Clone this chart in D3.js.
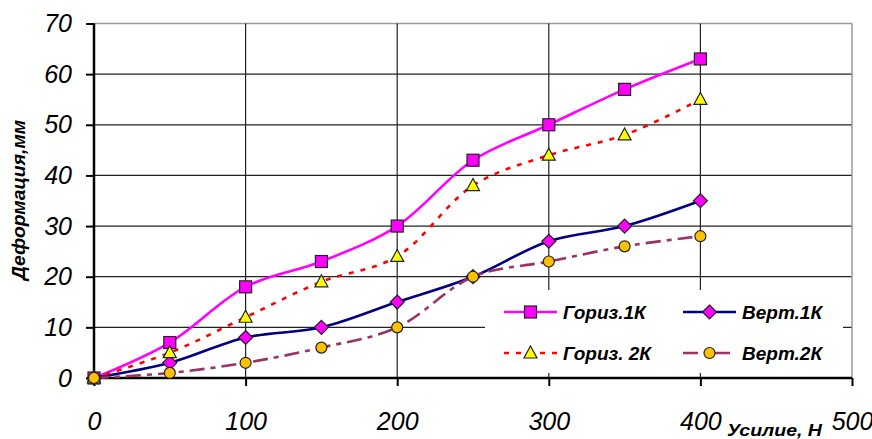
<!DOCTYPE html>
<html><head><meta charset="utf-8">
<script src="https://cdn.jsdelivr.net/npm/d3@7"></script>
<style>
body{margin:0;background:#fff;}
svg{display:block;font-family:"Liberation Sans",Arial,sans-serif;}
</style></head>
<body><svg id="c" width="872" height="439"></svg>
<script>
const xValues = [0, 50, 100, 150, 200, 250, 300, 350, 400];
const goriz1K = [0, 7, 18, 23, 30, 43, 50, 57, 63];
const vert1K  = [0, 3, 8, 10, 15, 20, 27, 30, 35];
const goriz2K = [0, 5, 12, 19, 24, 38, 44, 48, 55];
const vert2K  = [0, 1, 3, 6, 10, 20, 23, 26, 28];
const seriesNames = ["Гориз.1К", "Верт.1К", "Гориз. 2К", "Верт.2К"];
const xTicks = [0, 100, 200, 300, 400, 500];
const yTicks = [0, 10, 20, 30, 40, 50, 60, 70];
const xTitle = "Усилие, Н";
const yTitle = "Деформация,мм";

const series = [
  {name: seriesNames[0], values: goriz1K, color: "#FF00FF", dash: null, marker: "square", fill: "#FF00FF"},
  {name: seriesNames[1], values: vert1K, color: "#000080", dash: null, marker: "diamond", fill: "#FF00FF"},
  {name: seriesNames[2], values: goriz2K, color: "#FF0000", dash: "5,7", marker: "triangle", fill: "#FFFF00"},
  {name: seriesNames[3], values: vert2K, color: "#993366", dash: "15,6,5,6", marker: "circle", fill: "#FFC000"}
];

const svg = d3.select("#c");
const L = 94, R = 852, T = 23.5, B = 378;
const x = d3.scaleLinear().domain([0, 500]).range([L, R]);
const y = d3.scaleLinear().domain([0, 70]).range([B, T]);

// gridlines
const g = svg.append("g");
g.selectAll(".hg").data(yTicks.filter(d => d > 0)).join("line")
  .attr("x1", L).attr("x2", R).attr("y1", d => y(d)).attr("y2", d => y(d))
  .attr("stroke", d => d === 70 ? "#999" : "#222").attr("stroke-width", d => d === 70 ? 1.5 : 1.2);
g.selectAll(".vg").data(xTicks.filter(d => d > 0)).join("line")
  .attr("x1", d => x(d)).attr("x2", d => x(d)).attr("y1", T).attr("y2", B)
  .attr("stroke", d => d === 500 ? "#999" : "#222").attr("stroke-width", d => d === 500 ? 1.5 : 1.2);

// legend background (occludes grid)
const legX = 485, legY = 290, legW = 358, legH = 83;
svg.append("rect").attr("x", legX).attr("y", legY).attr("width", legW).attr("height", legH).attr("fill", "#fff");

// axes
const yAxis = svg.append("g").attr("transform", `translate(${L},0)`)
  .call(d3.axisLeft(y).tickValues(yTicks).tickSize(8).tickPadding(14).tickFormat(d3.format("d")));
const xAxis = svg.append("g").attr("transform", `translate(0,${B})`)
  .call(d3.axisBottom(x).tickValues(xTicks).tickSize(8).tickPadding(26).tickFormat(d3.format("d")));
[yAxis, xAxis].forEach(a => {
  a.select(".domain").attr("stroke", "#000").attr("stroke-width", 2.5);
  a.selectAll(".tick line").attr("stroke", "#000").attr("stroke-width", 2);
  a.selectAll("text").attr("font-size", 25).attr("font-style", "italic").attr("fill", "#000")
    .attr("font-family", "'Liberation Sans',Arial,sans-serif");
});
xAxis.select(".domain").attr("d", `M${L},0H${R}`);
yAxis.select(".domain").attr("d", `M0,${B}V${T}`);

// lines
const line = d3.line().x((d, i) => x(xValues[i])).y(d => y(d)).curve(d3.curveCatmullRom.alpha(0.5));
series.forEach(s => {
  svg.append("path").datum(s.values).attr("d", line)
    .attr("fill", "none").attr("stroke", s.color).attr("stroke-width", 2.6)
    .attr("stroke-dasharray", s.dash);
});

function drawMarker(sel, type, fill, cx, cy) {
  const st = {fill: fill, stroke: "#222", "stroke-width": 1.2};
  let m;
  if (type === "square") m = sel.append("rect").attr("x", cx - 6).attr("y", cy - 6).attr("width", 12).attr("height", 12);
  else if (type === "diamond") m = sel.append("path").attr("d", `M${cx},${cy-7}L${cx+7},${cy}L${cx},${cy+7}L${cx-7},${cy}Z`);
  else if (type === "triangle") m = sel.append("path").attr("d", `M${cx},${cy-7}L${cx+6.5},${cy+5}L${cx-6.5},${cy+5}Z`);
  else m = sel.append("circle").attr("cx", cx).attr("cy", cy).attr("r", 5.5);
  Object.entries(st).forEach(([k, v]) => m.attr(k, v));
}
series.forEach(s => {
  const mg = svg.append("g");
  s.values.forEach((v, i) => drawMarker(mg, s.marker, s.fill, x(xValues[i]), y(v)));
});

// legend
const legPos = [[504, 312], [683, 312], [504, 353], [683, 353]];
series.forEach((s, i) => {
  const [lx, ly] = legPos[i];
  svg.append("line").attr("x1", lx).attr("x2", lx + 53).attr("y1", ly).attr("y2", ly)
    .attr("stroke", s.color).attr("stroke-width", 2.6).attr("stroke-dasharray", s.dash);
  drawMarker(svg, s.marker, s.fill, lx + 26.5, ly);
  svg.append("text").attr("x", lx + 59).attr("y", ly + 6.5).text(s.name)
    .attr("font-size", 19).attr("font-weight", "bold").attr("font-style", "italic");
});

// axis titles
svg.append("text").attr("transform", "translate(25,200) rotate(-90)").attr("text-anchor", "middle")
  .attr("font-size", 18).attr("font-weight", "bold").attr("font-style", "italic")
  .attr("textLength", 160).attr("lengthAdjust", "spacingAndGlyphs").text(yTitle);
svg.append("text").attr("x", 727).attr("y", 436)
  .attr("font-size", 17).attr("font-weight", "bold").attr("font-style", "italic")
  .attr("textLength", 95).attr("lengthAdjust", "spacingAndGlyphs").text(xTitle);
</script></body></html>
